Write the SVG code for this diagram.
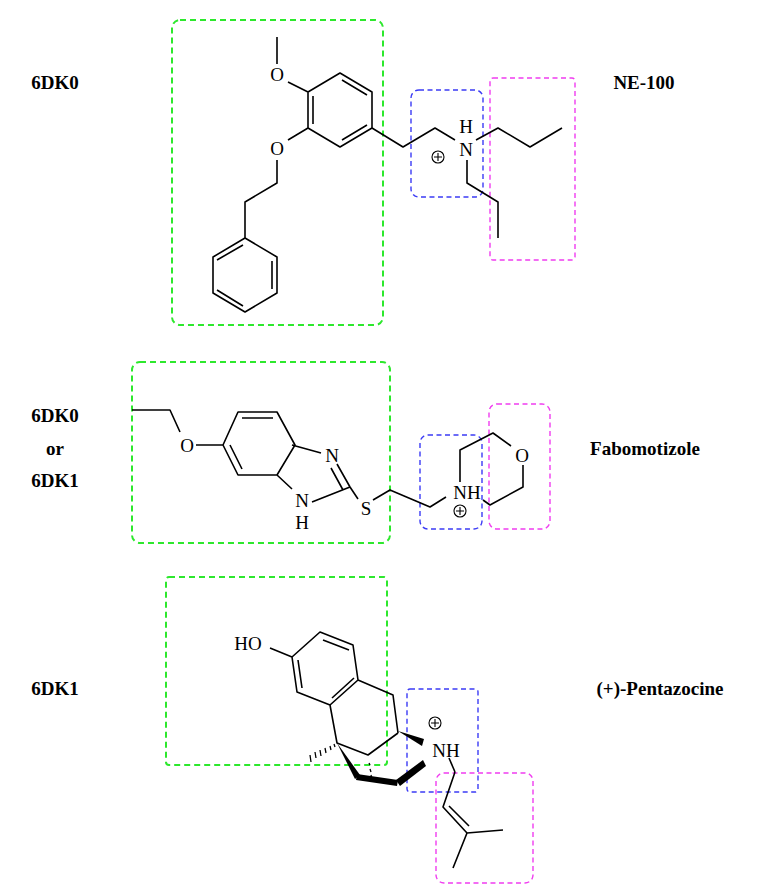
<svg xmlns="http://www.w3.org/2000/svg" width="768" height="890" viewBox="0 0 768 890">
<style>
.b{fill:none;stroke:#000;stroke-width:1.6;stroke-linejoin:round}
.g{fill:none;stroke:#2de82d;stroke-width:2;stroke-dasharray:6 4}
.u{fill:none;stroke:#3b3bf5;stroke-width:1.4;stroke-dasharray:5 3.5}
.m{fill:none;stroke:#f03cf0;stroke-width:1.4;stroke-dasharray:5 3.5}
.a{font-family:"Liberation Serif",serif;font-size:19px;fill:#000;text-anchor:middle;dominant-baseline:central}
.l{font-family:"Liberation Serif",serif;font-size:19px;font-weight:bold;fill:#000;text-anchor:middle;dominant-baseline:central}
.p{fill:none;stroke:#000;stroke-width:1.1}
</style>
<rect width="768" height="890" fill="#fff"/>
<g id="mol1">
<rect class="g" x="172" y="20" width="211" height="305" rx="8"/>
<rect class="u" x="411" y="90" width="72" height="107" rx="8"/>
<rect class="m" x="490" y="78" width="85" height="182" rx="3"/>
<path class="b" d="M277,37V64M288,82L308,92L340,73L372,92V128L340,147L308,128V92M313,96V124M342,80L367,95M342,140L367,125M308,128L288,140M277,160V183L245,202V238L277,257V293L245,312L213,293V257L245,238M272,261V289M217,290L243,306M217,260L243,245M372,128L403,147L435,128L455,140M476,140L498,128L530,147L562,128M467,160V183L498,202V238"/>
<text class="a" x="277" y="74">O</text>
<text class="a" x="277" y="148">O</text>
<text class="a" x="466" y="149">N</text>
<text class="a" x="466" y="126">H</text>
<circle class="p" cx="438" cy="157" r="6"/><path class="p" d="M434,157h8M438,153v8"/>
</g>
<g id="mol2">
<rect class="g" x="132" y="362" width="258" height="181" rx="8"/>
<rect class="u" x="420" y="435" width="62" height="94" rx="8"/>
<rect class="m" x="489" y="404" width="61" height="125" rx="8"/>
<path class="b" d="M132,410H170L180,432M196,445H223L238,412H277L295,445L277,475H238L223,445M242,418H273M230,445L242,469M292,445L321,453M277,475L292,489M337,464L350,487M331,468L343,490M350,487L312,502M350,487L358,499M373,500L390,490L430,507L446,497M460,482V450L493,433L511,446M523,465V487L490,505L483,500"/>
<text class="a" x="187" y="445">O</text>
<text class="a" x="332" y="455">N</text>
<text class="a" x="302" y="500">N</text>
<text class="a" x="302" y="522">H</text>
<text class="a" x="366" y="508">S</text>
<text class="a" x="467" y="492">NH</text>
<text class="a" x="522" y="455">O</text>
<circle class="p" cx="460" cy="511" r="6"/><path class="p" d="M456,511h8M460,507v8"/>
</g>
<g id="mol3">
<rect class="g" x="166" y="577" width="221" height="188" rx="3"/>
<rect class="u" x="407" y="689" width="71" height="103" rx="3"/>
<rect class="m" x="436" y="773" width="97" height="110" rx="8"/>
<path class="b" d="M270,648L292,657L320,632L353,645L358,680L330,705L297,692L292,657M298,660L302,688M323,640L349,650M332,698L354,678M358,680L393,695L398,733M330,705L337,743L368,755L398,733M455,772L443,807L467,833L503,830M449,806L469,826M467,833L453,868"/>
<path d="M398,731L424,739L422,746Z"/>
<path d="M337,743L360,775L355,779Z"/>
<path d="M357,774L398,780L397,786L356,780Z"/>
<path d="M396,780L423,760L426,766L400,786Z"/>
<path class="b" d="M449,758L455,772"/>
<path stroke="#000" stroke-width="1.3" d="M334,744l1,3M330,746l1,4M325,748l1,5M320,750l1,6M315,752l1,6M310,755l1,7M369,763l1,2M370,769l1,3M371,775l1,4"/>
<text class="a" x="248" y="643">HO</text>
<text class="a" x="446" y="750">NH</text>
<circle class="p" cx="435" cy="723" r="6"/><path class="p" d="M431,723h8M435,719v8"/>
</g>
<g id="labels">
<text class="l" x="55" y="82">6DK0</text>
<text class="l" x="644" y="82">NE-100</text>
<text class="l" x="55" y="415">6DK0</text>
<text class="l" x="55" y="448">or</text>
<text class="l" x="55" y="480">6DK1</text>
<text class="l" x="645" y="448">Fabomotizole</text>
<text class="l" x="55" y="688">6DK1</text>
<text class="l" x="660" y="688">(+)-Pentazocine</text>
</g>
</svg>
